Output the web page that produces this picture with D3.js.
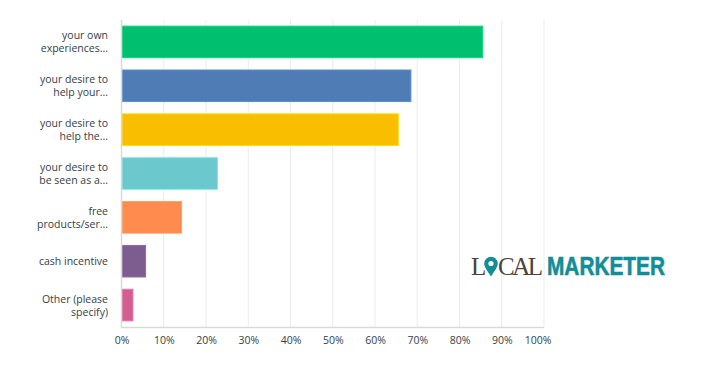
<!DOCTYPE html>
<html><head><meta charset="utf-8">
<script src="https://cdn.jsdelivr.net/npm/d3@7/dist/d3.min.js"></script>
<style>body{margin:0;background:#fff;}svg{display:block;}</style>
</head><body>
<svg id="c" width="714" height="386"></svg>
<script>
const categories = [
  ["your own", "experiences..."],
  ["your desire to", "help your..."],
  ["your desire to", "help the..."],
  ["your desire to", "be seen as a..."],
  ["free", "products/ser..."],
  ["cash incentive"],
  ["Other (please", "specify)"]
];
const values = [85.5, 68.5, 65.5, 22.7, 14.2, 5.7, 2.7];
const colors = ["#00bf6f", "#507cb6", "#f9be00", "#6bc8cd", "#ff8b4f", "#7d5c8f", "#d25f90"];
const ticks = [0,10,20,30,40,50,60,70,80,90,100];

const svg = d3.select("#c");
const x = d3.scaleLinear().domain([0,100]).range([121.5, 544]);
const y = d3.scaleBand().domain(d3.range(categories.length)).range([20, 327]).paddingInner(0.28).paddingOuter(0.14);

// grid
svg.append("g").selectAll("line").data(ticks.slice(1)).join("line")
  .attr("x1", d=>x(d)).attr("x2", d=>x(d)).attr("y1", 20).attr("y2", 327)
  .attr("stroke", "#ebebeb").attr("stroke-width", 1);

// bars
svg.append("g").selectAll("rect").data(values).join("rect")
  .attr("x", x(0)+0.5).attr("y", (d,i)=>y(i))
  .attr("width", d=>x(d)-x(0)-0.5).attr("height", y.bandwidth())
  .attr("fill", (d,i)=>colors[i])
  .attr("stroke", (d,i)=>d3.color(colors[i]).brighter(0.4))
  .attr("stroke-width", 1);

// axes lines
svg.append("line").attr("x1", x(0)).attr("x2", x(0)).attr("y1", 20).attr("y2", 328)
  .attr("stroke", "#d9d9d9").attr("stroke-width", 1.5);
svg.append("line").attr("x1", x(0)).attr("x2", x(100)).attr("y1", 327.5).attr("y2", 327.5)
  .attr("stroke", "#d9d9d9").attr("stroke-width", 1.5);

// x tick labels
const xAxis = d3.axisBottom(x).tickValues(ticks).tickFormat(d=>d+"%").tickSize(0).tickPadding(0);
const gx = svg.append("g").attr("transform", "translate(0,337)").call(xAxis);
gx.select(".domain").remove();
gx.selectAll("text").attr("font-family", "Open Sans, sans-serif").attr("font-size", 10.5).attr("fill", "#333e48");
gx.selectAll(".tick").filter(d=>d===100).select("text").attr("text-anchor", "end").attr("x", 7);

// category labels
const gl = svg.append("g");
categories.forEach((lines, i) => {
  const cy = y(i) + y.bandwidth()/2;
  const lh = 13;
  const t = gl.append("text").attr("x", 108).attr("text-anchor", "end")
    .attr("font-family", "Open Sans, sans-serif").attr("font-size", 10.5).attr("fill", "#333e48");
  lines.forEach((ln, j) => {
    t.append("tspan").attr("x", 108)
      .attr("y", cy + (j - (lines.length-1)/2)*lh + 4)
      .text(ln);
  });
});

// logo
const logo = svg.append("g");
logo.append("text").attr("x", 471).attr("y", 275).text("L")
  .attr("font-family", "Liberation Serif, serif").attr("font-size", 25).attr("fill", "#4b4340");
// pin
const px = 491, py = 263.5, r = 6.8;
logo.append("path")
  .attr("d", `M${px},${py+13} C${px-3},${py+8} ${px-r},${py+4} ${px-r},${py} A${r},${r} 0 1 1 ${px+r},${py} C${px+r},${py+4} ${px+3},${py+8} ${px},${py+13} Z`)
  .attr("fill", "#138d96");
logo.append("circle").attr("cx", px).attr("cy", py).attr("r", 2.6).attr("fill", "#fff");
logo.append("text").attr("x", 498).attr("y", 275).text("CAL")
  .attr("textLength", 45).attr("lengthAdjust", "spacing")
  .attr("font-family", "Liberation Serif, serif").attr("font-size", 25).attr("fill", "#4b4340");
logo.append("text").attr("x", 547).attr("y", 275).text("MARKETER")
  .attr("textLength", 118).attr("lengthAdjust", "spacingAndGlyphs")
  .attr("font-family", "Liberation Sans, Arial, sans-serif").attr("font-weight", "bold")
  .attr("font-size", 25).attr("fill", "#138d96")
  .attr("stroke", "#138d96").attr("stroke-width", 0.6);
</script>
</body></html>
